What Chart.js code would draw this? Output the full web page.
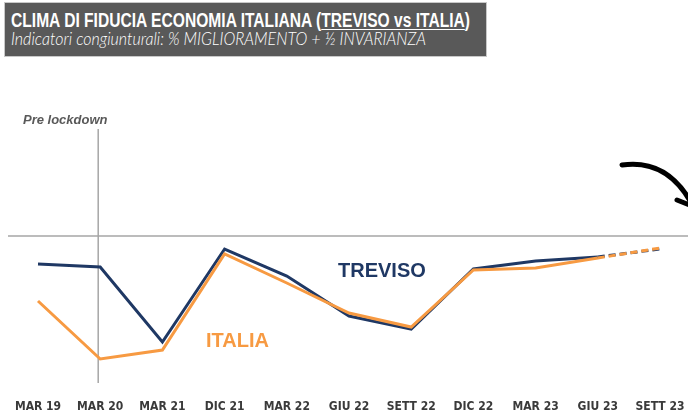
<!DOCTYPE html>
<html>
<head>
<meta charset="utf-8">
<script src="https://cdn.jsdelivr.net/npm/chart.js@4.4.1/dist/chart.umd.min.js"></script>
<style>
  html, body { margin: 0; padding: 0; background: #fff; }
  #wrap { position: relative; width: 688px; height: 414px; }
  #title {
    position: absolute; left: 4px; top: 2px; width: 481px; height: 53px;
    background: #595959; border: 1px solid #c8c8c8; color: #fff;
    box-sizing: content-box; overflow: hidden;
  }
  #t1 {
    position: absolute; left: 6px; top: 6px; white-space: nowrap;
    font-family: "Liberation Sans", sans-serif;
    font-weight: bold; font-size: 19.5px; line-height: 22px;
    transform: scaleX(0.8); transform-origin: left top;
  }
  #t1 u { text-decoration-thickness: 1px; text-underline-offset: 2px; }
  #t2 {
    position: absolute; left: 6px; top: 25px; white-space: nowrap;
    font-family: "Lato", sans-serif; font-style: italic; font-weight: 300;
    font-size: 18px; line-height: 20px;
    transform: scaleX(0.89); transform-origin: left top;
  }
  canvas { position: absolute; left: 0; top: 0; }
</style>
</head>
<body>
<div id="wrap">
  <canvas id="c" width="688" height="414"></canvas>
  <div id="title">
    <div id="t1">CLIMA DI FIDUCIA ECONOMIA ITALIANA (<u>TREVISO vs ITALIA</u>)</div>
    <div id="t2">Indicatori congiunturali: % MIGLIORAMENTO + ½ INVARIANZA</div>
  </div>
</div>
<script>
const categories = ["MAR 19","MAR 20","MAR 21","DIC 21","MAR 22","GIU 22","SETT 22","DIC 22","MAR 23","GIU 23","SETT 23"];
const treviso = [-14, -15.5, -53, -6.5, -20, -40, -46.5, -16.5, -12.5, -10.5, -6.5];
const italia  = [-32.5, -61.5, -57, -9, -23.5, -38.5, -45.5, -17, -16, -11, -6];
const forecastFrom = 9; // segment after GIU 23 is dashed
const markerIndex = 1;  // "Pre lockdown" vertical line at MAR 20

const NAVY = "#1F3864";
const ORANGE = "#F79A42";
const AXIS = "#A6A6A6";

const dashSeg = {
  borderDash: ctx => ctx.p0DataIndex >= forecastFrom ? [7, 4] : undefined
};

const decor = {
  id: "decor",
  beforeDatasetsDraw(chart) {
    const { ctx, chartArea, scales } = chart;
    const y0 = scales.y.getPixelForValue(0);
    const xm = scales.x.getPixelForValue(markerIndex);
    ctx.save();
    ctx.strokeStyle = AXIS;
    ctx.lineWidth = 1.5;
    ctx.beginPath();
    ctx.moveTo(8, y0); ctx.lineTo(chart.width, y0);
    ctx.moveTo(xm - 2, chartArea.top); ctx.lineTo(xm - 2, chartArea.bottom);
    ctx.stroke();
    ctx.restore();
  },
  afterDatasetsDraw(chart) {
    const { ctx } = chart;
    ctx.save();
    ctx.textBaseline = "middle";
    ctx.textAlign = "left";
    ctx.fillStyle = "#595959";
    ctx.font = "italic bold 13px 'Liberation Sans', sans-serif";
    ctx.fillText("Pre lockdown", 23, 120);
    ctx.font = "bold 20px 'Liberation Sans', sans-serif";
    ctx.fillStyle = NAVY;
    ctx.fillText("TREVISO", 338, 271);
    ctx.fillStyle = ORANGE;
    ctx.fillText("ITALIA", 206, 341);
    // hand-drawn arrow
    ctx.strokeStyle = "#000";
    ctx.lineWidth = 5;
    ctx.lineCap = "round";
    ctx.beginPath();
    ctx.moveTo(622, 165);
    ctx.bezierCurveTo(650, 161, 676, 172, 694, 208);
    ctx.moveTo(677, 200);
    ctx.lineTo(692, 206);
    ctx.stroke();
    ctx.restore();
  }
};

new Chart(document.getElementById("c"), {
  type: "line",
  data: {
    labels: categories,
    datasets: [
      { label: "TREVISO", data: treviso, borderColor: NAVY, borderWidth: 3, pointRadius: 0, tension: 0, segment: dashSeg, order: 2 },
      { label: "ITALIA", data: italia, borderColor: ORANGE, borderWidth: 3, pointRadius: 0, tension: 0, segment: dashSeg, order: 1 }
    ]
  },
  options: {
    responsive: false,
    animation: false,
    layout: { padding: { left: 38, right: 28, top: 129, bottom: 1 } },
    plugins: { legend: { display: false }, tooltip: { enabled: false }, title: { display: false } },
    scales: {
      x: {
        offset: false,
        grid: { display: false, drawTicks: false },
        border: { display: false },
        afterFit(scale) {
          scale.height = 30;
          scale.paddingLeft = 0;
          scale.paddingRight = 0;
        },
        ticks: {
          padding: 17, maxRotation: 0, minRotation: 0, autoSkip: false, color: "#3a3a3a",
          font: { family: "'DejaVu Sans Condensed', 'Liberation Sans', sans-serif", weight: "bold", size: 12 }
        }
      },
      y: { display: false, min: -73.5, max: 53.5 }
    }
  },
  plugins: [decor]
});
</script>
</body>
</html>
